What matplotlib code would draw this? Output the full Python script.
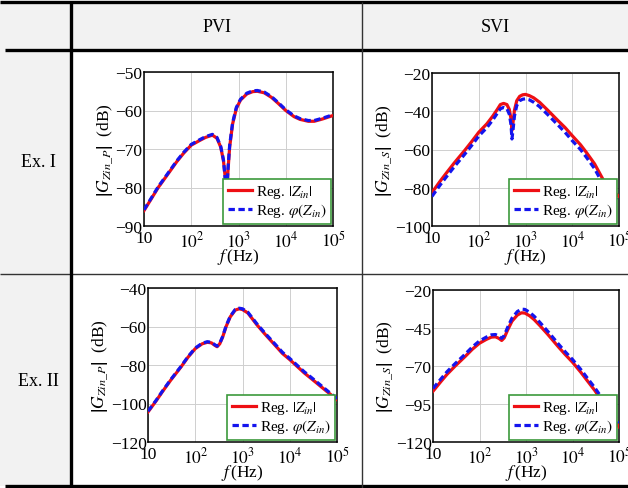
import numpy as np
import matplotlib
matplotlib.use("Agg")
import matplotlib.pyplot as plt
from matplotlib import ticker
from matplotlib.lines import Line2D
from matplotlib.patches import Rectangle

plt.rcParams['font.family'] = ['Liberation Serif', 'DejaVu Serif']
plt.rcParams['mathtext.fontset'] = 'stix'

W, H = 628, 489

# ---- data (f in Hz, magnitude in dB) ----
f_pvi1 = [10, 15, 20, 30, 50, 70, 100, 150, 200, 280, 350, 420, 480, 520, 545, 560,
          575, 600, 650, 750, 900, 1100, 1500, 2000, 2500, 3500, 5000, 7000, 10000,
          15000, 20000, 30000, 40000, 60000, 100000]
pvi1_mag = [-86, -82.5, -80, -77, -73.2, -71, -69, -67.8, -67, -66.4, -67.2, -69.5, -73,
            -77, -81, -83, -80, -75.5, -69.5, -63.5, -59.5, -57.3, -55.7, -55.1, -55,
            -55.4, -56.6, -58.2, -60, -61.6, -62.3, -62.8, -62.8, -62.2, -61.3]
pvi1_phase = [-85.8, -82.3, -79.8, -76.8, -73, -70.8, -68.8, -67.6, -66.8, -66.2, -67,
              -69.3, -72.8, -77.5, -81.5, -82.5, -79.5, -75, -69, -63.2, -59.2, -57.1,
              -55.5, -54.9, -54.8, -55.2, -56.4, -58, -59.8, -61.4, -62.1, -62.6, -62.6,
              -62, -61.1]

f_svi1 = [10, 15, 20, 30, 50, 70, 100, 150, 200, 250, 290, 340, 400, 450, 490, 513, 540,
          580, 650, 750, 870, 1000, 1200, 1500, 2000, 3000, 5000, 7000, 10000, 15000,
          20000, 30000, 50000, 70000, 100000]
svi1_mag = [-82.5, -76.5, -72.5, -67, -60.5, -56, -51, -46.5, -42.5, -39, -36.5, -35.9,
            -36.5, -39, -44, -50, -46, -39.5, -34.5, -32.2, -31.4, -31.2, -31.8, -33,
            -35.3, -39.5, -45, -48.5, -52.8, -57.5, -61.5, -67.5, -77.5, -81.5, -84.5]
svi1_phase = [-84.5, -78.5, -74.5, -69, -62.5, -58, -53, -48.5, -44.5, -41, -38.7, -38,
              -38.6, -41.5, -47, -54.5, -50, -42.5, -37, -34.5, -33.7, -33.5, -34,
              -35.3, -37.6, -41.8, -47.3, -51, -55.4, -60, -64, -70, -80, -84, -87]

f_pvi2 = [10, 15, 20, 30, 50, 70, 100, 140, 180, 220, 260, 290, 330, 380, 450, 550, 700,
          850, 1000, 1300, 2000, 3000, 5000, 7000, 10000, 20000, 30000, 50000, 100000]
pvi2_mag = [-104.4, -98.5, -94, -88, -81, -76, -71.5, -69, -68.2, -68.5, -69.8, -70.5,
            -69, -65.5, -60, -55, -51.5, -50.8, -51.2, -53, -59, -64, -70, -74, -77.2,
            -84, -87.5, -92, -98]
pvi2_phase = [-104, -98.2, -93.7, -87.7, -80.7, -75.7, -71.2, -68.7, -67.9, -68.2, -69.5,
              -70.2, -68.7, -65.2, -59.7, -54.7, -51.2, -50.5, -50.8, -52.6, -58.5,
              -63.5, -69.4, -73.4, -76.6, -83.4, -86.9, -91.4, -97.5]

f_svi2 = [10, 15, 20, 30, 50, 70, 100, 140, 180, 220, 260, 300, 340, 400, 500, 650, 800,
          950, 1200, 1500, 2000, 3000, 5000, 7000, 10000, 15000, 20000, 30000, 50000,
          70000, 100000]
svi2_mag = [-86.6, -80, -75.5, -70, -63.5, -59, -55, -52.5, -51, -50.8, -51.8, -53.2,
            -51.5, -46.5, -40.5, -36.5, -35, -35.2, -37, -39.5, -43.5, -49.5, -57.5,
            -62.5, -67.5, -74, -79, -86, -96, -103, -110]
svi2_phase = [-84.8, -78.3, -73.8, -68.4, -62, -57.5, -53.5, -51, -49.5, -49.3, -50.3,
              -51.8, -50, -44.8, -38.5, -34.2, -32.6, -32.8, -34.7, -37.3, -41.4, -47.5,
              -55.6, -60.7, -65.7, -72.2, -77.2, -84.2, -94, -100.8, -107.5]

panels = [
    # x0, x1, ytop, ybot (pixels), f, mag, phase, ylim, yticks, subscript
    (144, 333, 73, 227, f_pvi1, pvi1_mag, pvi1_phase, (-90, -50), [-90, -80, -70, -60, -50], 'P'),
    (432, 619, 74, 227, f_svi1, svi1_mag, svi1_phase, (-100, -20), [-100, -80, -60, -40, -20], 'S'),
    (148, 337, 289, 443, f_pvi2, pvi2_mag, pvi2_phase, (-120, -40), [-120, -100, -80, -60, -40], 'P'),
    (433, 619, 291, 443, f_svi2, svi2_mag, svi2_phase, (-120, -20), [-120, -95, -70, -45, -20], 'S'),
]

fig = plt.figure(figsize=(W / 100, H / 100), dpi=100)


def fx(x):
    return x / W


def fy(y):
    return 1 - y / H


# table background + rules
gray = '#f2f2f2'
fig.add_artist(Rectangle((0, fy(51)), 1, fy(3) - fy(51), transform=fig.transFigure,
                         facecolor=gray, edgecolor='none', zorder=0))
fig.add_artist(Rectangle((0, fy(487)), fx(71), fy(51) - fy(487), transform=fig.transFigure,
                         facecolor=gray, edgecolor='none', zorder=0))


def hline(y, x0, x1, lw, c='black'):
    fig.add_artist(Line2D([fx(x0), fx(x1)], [fy(y), fy(y)], transform=fig.transFigure,
                          color=c, lw=lw, solid_capstyle='butt'))


def vline(x, y0, y1, lw, c='black'):
    fig.add_artist(Line2D([fx(x), fx(x)], [fy(y0), fy(y1)], transform=fig.transFigure,
                          color=c, lw=lw, solid_capstyle='butt'))


hline(3, 0, W, 2.4)
hline(51, 5, W, 2.4)
hline(487, 5, W, 2.4)
hline(275, 0, W, 1.0, '#333333')
vline(71, 3, 489, 2.4)
vline(362, 3, 489, 1.0, '#333333')

fig.text(fx(217), fy(27), 'PVI', ha='center', va='center', fontsize=13)
fig.text(fx(495), fy(27), 'SVI', ha='center', va='center', fontsize=13)
fig.text(fx(38), fy(163), 'Ex. I', ha='center', va='center', fontsize=13)
fig.text(fx(38), fy(381), 'Ex. II', ha='center', va='center', fontsize=13)

for x0, x1, yt, yb, f, mag, ph, ylim, yt_list, sub in panels:
    ax = fig.add_axes([fx(x0), fy(yb), fx(x1) - fx(x0), fy(yt) - fy(yb)])
    ax.semilogx(f, mag, color='#ee0f14', lw=2.3, label=r'Reg. $|Z_{in}|$', zorder=3)
    ax.semilogx(f, ph, color='#1414ee', lw=2.3, ls=(0, (2.0, 1.1)),
                label=r'Reg. $\varphi(Z_{in})$', zorder=4)
    ax.set_xlim(10, 1e5)
    ax.set_ylim(*ylim)
    ax.set_yticks(yt_list)
    ax.xaxis.set_major_locator(ticker.FixedLocator([10, 1e2, 1e3, 1e4, 1e5]))
    ax.xaxis.set_major_formatter(ticker.FixedFormatter(
        ['10', r'$10^2$', r'$10^3$', r'$10^4$', r'$10^5$']))
    ax.xaxis.set_minor_locator(ticker.LogLocator(base=10, subs=np.arange(2, 10)))
    ax.xaxis.set_minor_formatter(ticker.NullFormatter())
    ax.grid(True, which='major', color='#cfcfcf', lw=0.7)
    ax.grid(True, which='minor', axis='x', color='#e4e4e4', lw=0.5)
    ax.set_axisbelow(True)
    ax.tick_params(which='both', direction='in', length=0, labelsize=12.5)
    ax.tick_params(axis='x', pad=3)
    ax.tick_params(axis='y', pad=1)
    for s in ax.spines.values():
        s.set_linewidth(1.1)
    ax.set_xlabel(r'$f\,$(Hz)', fontsize=12.5)
    ax.xaxis.set_label_coords(0.5, -30.0 / (yb - yt))
    ax.xaxis.label.set_va('center')
    ax.set_ylabel(r'$\left|G_{Zin\_' + sub + r'}\right|$  (dB)', fontsize=12.5, labelpad=0)
    leg = ax.legend(loc='lower right', fontsize=11, frameon=True, fancybox=False,
                    framealpha=1, edgecolor='#3c9a3c', borderaxespad=0.15,
                    handlelength=1.6, handletextpad=0.2, labelspacing=0.05,
                    borderpad=0.3)
    leg.get_frame().set_linewidth(1.2)

fig.savefig('out.png', dpi=100)
